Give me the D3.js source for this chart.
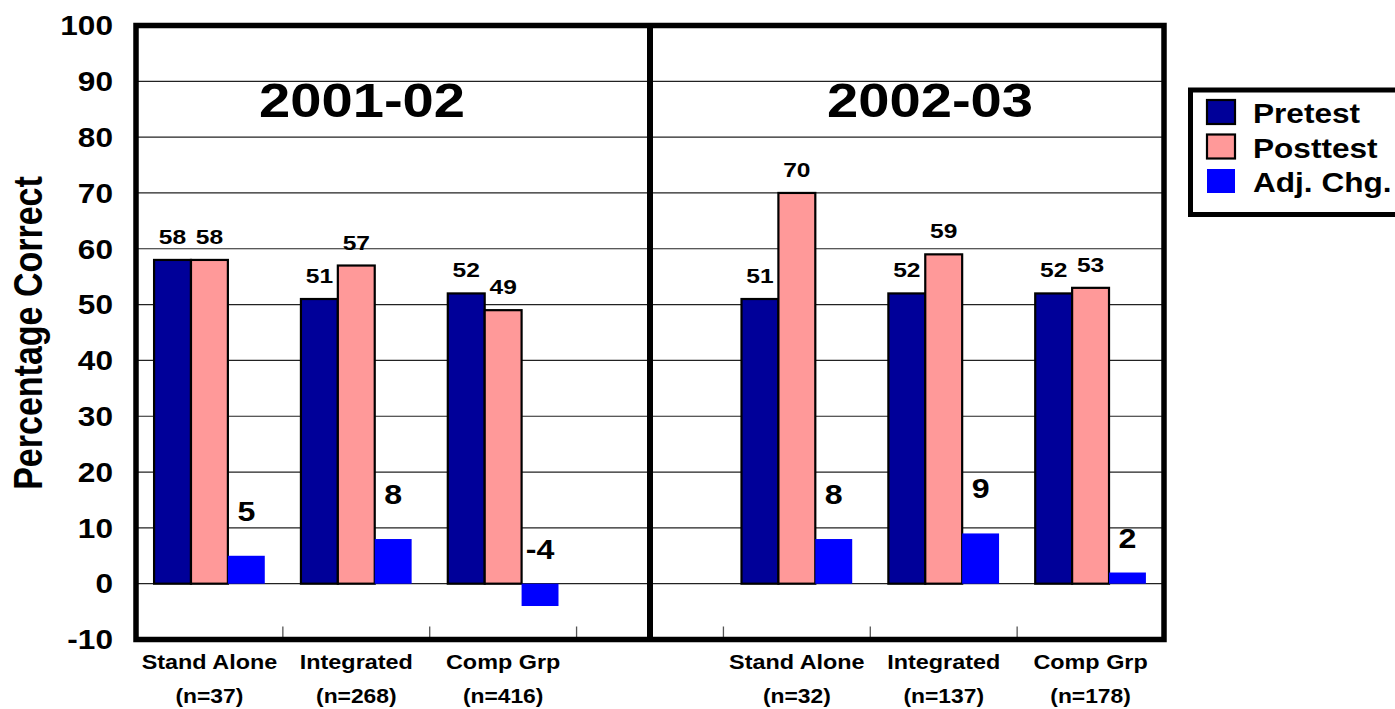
<!DOCTYPE html>
<html>
<head>
<meta charset="utf-8">
<script src="https://cdn.jsdelivr.net/npm/d3@7"></script>
<style>
  html, body { margin: 0; padding: 0; background: #fff; }
  svg { display: block; font-family: "Liberation Sans", Arial, sans-serif; font-weight: bold; }
</style>
</head>
<body>
<svg id="chart" width="1395" height="709"></svg>
<script>
// ---- data ----
const years = ["2001-02", "2002-03"];
const groups = ["Stand Alone", "Integrated", "Comp Grp"];
const sampleSizes = [["(n=37)", "(n=268)", "(n=416)"], ["(n=32)", "(n=137)", "(n=178)"]];
const seriesNames = ["Pretest", "Posttest", "Adj. Chg."];
const pretest = [[58, 51, 52], [51, 52, 52]];
const posttest = [[58, 57, 49], [70, 59, 53]];
const adjChange = [[5, 8, -4], [8, 9, 2]];
const yTicks = [-10, 0, 10, 20, 30, 40, 50, 60, 70, 80, 90, 100];

// ---- layout ----
const W = 1395, H = 709;
const plot = { left: 136, right: 1164, top: 25.5, bottom: 639.5 };
const SX = 1.17; // text is drawn slightly wide
const colors = { "Pretest": "#000099", "Posttest": "#FF9999", "Adj. Chg.": "#0000FF" };
const outlined = { "Pretest": true, "Posttest": true, "Adj. Chg.": false };

const svg = d3.select("#chart");

// slots: three groups per year with one empty slot between the years
const slots = [];
years.forEach((yr, yi) => {
  groups.forEach((g, gi) => slots.push({ key: yr + "|" + g, yi, gi }));
  if (yi === 0) slots.push({ key: "gap", yi: -1, gi: -1 });
});

const x = d3.scaleBand().domain(slots.map(s => s.key)).range([plot.left, plot.right]).padding(0);
const xs = d3.scaleBand().domain(seriesNames).range([0, x.bandwidth()]).paddingInner(0).paddingOuter(0.49);
const y = d3.scaleLinear().domain([-10, 100]).range([plot.bottom, plot.top]);

function wideText(sel, px, py) {
  return sel.attr("transform", `translate(${px},${py}) scale(${SX},1)`);
}

// gridlines
svg.append("g").selectAll("line").data(yTicks.filter(t => t > -10 && t < 100)).join("line")
  .attr("x1", plot.left).attr("x2", plot.right)
  .attr("y1", d => y(d)).attr("y2", d => y(d))
  .attr("stroke", "#222").attr("stroke-width", 1.2);

// bars
const barRows = [];
slots.filter(s => s.yi >= 0).forEach(s => {
  const vals = [pretest[s.yi][s.gi], posttest[s.yi][s.gi], adjChange[s.yi][s.gi]];
  seriesNames.forEach((name, si) => barRows.push({ slot: s.key, name, v: vals[si] }));
});

svg.append("g").selectAll("rect").data(barRows).join("rect")
  .attr("x", d => x(d.slot) + xs(d.name))
  .attr("width", xs.bandwidth())
  .attr("y", d => y(Math.max(0, d.v)))
  .attr("height", d => Math.abs(y(d.v) - y(0)))
  .attr("fill", d => colors[d.name])
  .attr("stroke", d => outlined[d.name] ? "#000" : "none")
  .attr("stroke-width", 2.2);

// value labels
svg.append("g").selectAll("text").data(barRows).join("text")
  .attr("text-anchor", "middle")
  .attr("font-size", d => d.name === "Adj. Chg." ? 27.5 : 21)
  .text(d => d.v)
  .each(function (d) {
    const cx = x(d.slot) + xs(d.name) + xs.bandwidth() / 2;
    let gap;
    if (d.name === "Adj. Chg.") gap = Math.max(0, d.v) >= 5 ? 35 : 25;
    else gap = 16;
    wideText(d3.select(this), cx, y(Math.max(0, d.v)) - gap);
  });

// bottom ticks at slot boundaries (none under the year divider)
const tickXs = [];
slots.forEach((s, i) => { if (i > 0) tickXs.push(x(s.key)); });
svg.append("g").selectAll("line").data(tickXs).join("line")
  .attr("x1", d => d).attr("x2", d => d)
  .attr("y1", plot.bottom - 13).attr("y2", plot.bottom)
  .attr("stroke", "#555").attr("stroke-width", 1.3);

// frame and year divider
svg.append("rect")
  .attr("x", plot.left).attr("y", plot.top)
  .attr("width", plot.right - plot.left).attr("height", plot.bottom - plot.top)
  .attr("fill", "none").attr("stroke", "#000").attr("stroke-width", 5.5);
const dividerX = x("gap") + x.bandwidth() / 2;
svg.append("line")
  .attr("x1", dividerX).attr("x2", dividerX)
  .attr("y1", plot.top).attr("y2", plot.bottom)
  .attr("stroke", "#000").attr("stroke-width", 6);

// y tick labels
svg.append("g").selectAll("text").data(yTicks).join("text")
  .attr("text-anchor", "end").attr("font-size", 27).attr("dy", "0.36em")
  .text(d => d)
  .each(function (d) { wideText(d3.select(this), 113, y(d)); });

// y axis title
svg.append("text")
  .attr("text-anchor", "middle").attr("font-size", 34)
  .attr("transform", `translate(42,333) scale(${SX},1) rotate(-90)`)
  .text("Percentage Correct");

// year titles
const titleXs = [362, 930];
years.forEach((yr, i) => {
  wideText(svg.append("text").attr("text-anchor", "middle").attr("font-size", 48).text(yr), titleXs[i], 117);
});

// category labels
slots.filter(s => s.yi >= 0).forEach(s => {
  const cx = x(s.key) + x.bandwidth() / 2;
  wideText(svg.append("text").attr("text-anchor", "middle").attr("font-size", 20).text(groups[s.gi]), cx, 669);
  wideText(svg.append("text").attr("text-anchor", "middle").attr("font-size", 19.5).text(sampleSizes[s.yi][s.gi]), cx, 703);
});

// legend
const legend = svg.append("g");
legend.append("rect")
  .attr("x", 1190.5).attr("y", 90).attr("width", 260).attr("height", 124.5)
  .attr("fill", "#fff").attr("stroke", "#000").attr("stroke-width", 5);
seriesNames.forEach((name, i) => {
  const ry = 100 + i * 34.5;
  legend.append("rect")
    .attr("x", 1207).attr("y", ry).attr("width", 28).attr("height", 24)
    .attr("fill", colors[name])
    .attr("stroke", outlined[name] ? "#000" : "none").attr("stroke-width", 2.2);
  wideText(legend.append("text").attr("font-size", 27).text(name), 1253, ry + 23);
});
</script>
</body>
</html>
